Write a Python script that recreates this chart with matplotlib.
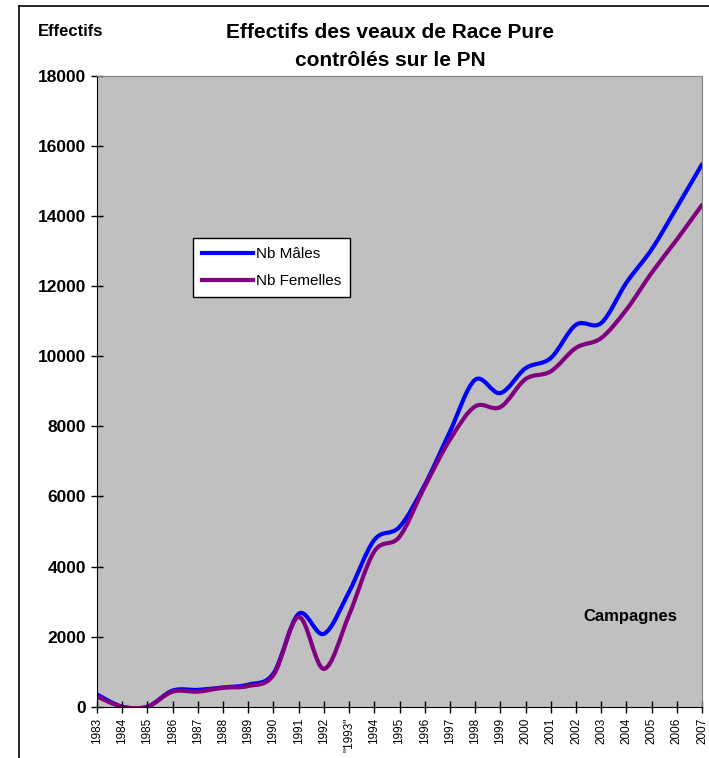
import matplotlib.pyplot as plt
from matplotlib.path import Path
from matplotlib.patches import PathPatch
from matplotlib.lines import Line2D

plt.rcParams['font.family'] = ['Liberation Sans', 'DejaVu Sans']

years = list(range(1983, 2008))
labels = [str(y) for y in years]
labels[10] = '"1993"'

males = [350, 0, 0, 460, 480, 550, 630, 950, 2650, 2080, 3280, 4760, 5130,
         6330, 7850, 9330, 8950, 9660, 9950, 10900, 10950, 12100, 13050,
         14250, 15480]
femelles = [290, 0, 0, 430, 430, 540, 590, 900, 2560, 1080, 2620, 4430, 4850,
            6280, 7620, 8570, 8550, 9350, 9570, 10240, 10520, 11330, 12380,
            13330, 14320]


def smooth_path(xs, ys):
    # Excel-style smoothed line: cubic Bezier through every point
    n = len(xs)
    verts = [(xs[0], ys[0])]
    codes = [Path.MOVETO]
    for i in range(n - 1):
        a = max(i - 1, 0)
        b = min(i + 2, n - 1)
        c1 = (xs[i] + (xs[i + 1] - xs[a]) / 6, ys[i] + (ys[i + 1] - ys[a]) / 6)
        c2 = (xs[i + 1] - (xs[b] - xs[i]) / 6, ys[i + 1] - (ys[b] - ys[i]) / 6)
        verts += [c1, c2, (xs[i + 1], ys[i + 1])]
        codes += [Path.CURVE4] * 3
    return Path(verts, codes)


fig = plt.figure(figsize=(7.09, 7.58), dpi=100)
W, H = 709, 758
ax = fig.add_axes([97 / W, 51.3 / H, 605 / W, 630.7 / H])
ax.set_facecolor('#c0c0c0')

ax.add_patch(PathPatch(smooth_path(years, males), facecolor='none',
                       edgecolor='#0000ff', lw=3, capstyle='round'))
ax.add_patch(PathPatch(smooth_path(years, femelles), facecolor='none',
                       edgecolor='#800080', lw=3, capstyle='round'))

ax.set_xlim(1983, 2007)
ax.set_ylim(0, 18000)
ax.set_xticks(years)
ax.set_xticklabels(labels, rotation=90, fontsize=8.5)
ax.set_yticks(range(0, 18001, 2000))
ax.set_yticklabels([str(v) for v in range(0, 18001, 2000)],
                   fontsize=12.5, fontweight='bold')
ax.tick_params(direction='inout', length=8, width=1, color='black')
ax.tick_params(axis='y', pad=4)
ax.tick_params(axis='x', pad=4)
for s in ['top', 'right']:
    ax.spines[s].set_color('#808080')
for s in ['left', 'bottom']:
    ax.spines[s].set_color('black')

handles = [Line2D([], [], color='#0000ff', lw=3),
           Line2D([], [], color='#800080', lw=3)]
leg = fig.legend(handles, ['Nb Mâles', 'Nb Femelles'],
                 loc='upper left', bbox_to_anchor=(193 / W, 1 - 238 / H),
                 fontsize=11, frameon=True, fancybox=False, framealpha=1,
                 edgecolor='black', handlelength=3.3, handletextpad=0.2,
                 borderpad=0.6, labelspacing=0.85, borderaxespad=0)
leg.get_frame().set_linewidth(1)

fig.text(390 / W, 1 - 32 / H, 'Effectifs des veaux de Race Pure',
         ha='center', va='center', fontsize=15, fontweight='bold')
fig.text(390 / W, 1 - 60 / H, 'contrôlés sur le PN',
         ha='center', va='center', fontsize=15, fontweight='bold')
fig.text(71 / W, 1 - 32 / H, 'Effectifs', ha='center', va='center',
         fontsize=12, fontweight='bold')
fig.text(630 / W, 1 - 617 / H, 'Campagnes', ha='center', va='center',
         fontsize=12, fontweight='bold')

# outer chart frame (cropped on right and bottom)
fig.add_artist(Line2D([19 / W, 19 / W], [0, 1 - 6 / H], color='black', lw=1.2,
                      transform=fig.transFigure))
fig.add_artist(Line2D([19 / W, 1], [1 - 6 / H, 1 - 6 / H], color='black', lw=1.2,
                      transform=fig.transFigure))

fig.savefig('out.png', dpi=100)
